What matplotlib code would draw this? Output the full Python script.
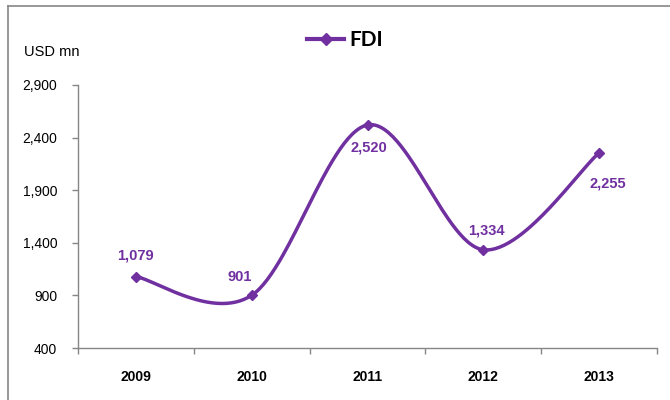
import numpy as np
import matplotlib.pyplot as plt
from matplotlib.lines import Line2D

years = ["2009", "2010", "2011", "2012", "2013"]
fdi = [1079, 901, 2520, 1334, 2255]
label_offsets = [(0, 15), (-9, 13), (1, -16), (2, 14), (6, -22)]  # points

purple = "#7030A0"
gray = "#868686"

plt.rcParams["font.family"] = ["Liberation Sans", "DejaVu Sans"]


def smooth(xs, ys, n=60):
    # Excel-style smoothed line: Catmull-Rom as cubic Bezier segments
    p = np.column_stack([xs, ys]).astype(float)
    p = np.vstack([p[0], p, p[-1]])
    out = []
    t = np.linspace(0, 1, n)[:, None]
    for i in range(1, len(p) - 2):
        b0 = p[i]
        b3 = p[i + 1]
        b1 = b0 + (p[i + 1] - p[i - 1]) / 6
        b2 = b3 - (p[i + 2] - p[i]) / 6
        seg = ((1 - t) ** 3) * b0 + 3 * ((1 - t) ** 2) * t * b1 + 3 * (1 - t) * t ** 2 * b2 + t ** 3 * b3
        out.append(seg)
    c = np.vstack(out)
    return c[:, 0], c[:, 1]


fig = plt.figure(figsize=(6.7, 4), dpi=100)
ax = fig.add_axes([78 / 670, 1 - 348 / 400, (657 - 78) / 670, (348 - 85) / 400])

x = np.arange(len(years))
sx, sy = smooth(x, fdi)
ax.plot(sx, sy, color=purple, lw=2.5, solid_capstyle="round", zorder=3)
ax.plot(x, fdi, ls="none", marker="D", ms=5.5, color=purple, zorder=4)

for xi, v, off in zip(x, fdi, label_offsets):
    ax.annotate(f"{v:,}", (xi, v), xytext=off, textcoords="offset points",
                ha="center", va="center", color=purple, fontsize=10.5, fontweight="bold")

ax.set_xlim(-0.5, len(years) - 0.5)
ax.set_ylim(400, 2900)
ax.set_yticks(range(400, 2901, 500))
ax.set_yticklabels([f"{v:,}" for v in range(400, 2901, 500)], fontsize=10)
ax.set_xticks(x)
ax.set_xticklabels(years, fontsize=10, fontweight="bold")
ax.set_xticks(np.arange(-0.5, len(years), 1), minor=True)
ax.tick_params(axis="x", which="major", length=0, pad=16)
ax.tick_params(axis="x", which="minor", length=4.5, color=gray, width=1)
ax.tick_params(axis="y", length=4, color=gray, width=1, pad=11)

for s in ["top", "right"]:
    ax.spines[s].set_visible(False)
for s in ["left", "bottom"]:
    ax.spines[s].set_color(gray)
    ax.spines[s].set_linewidth(1)

fig.text(24 / 670, 1 - 52 / 400, "USD mn", fontsize=10.5, va="center")

handle = Line2D([], [], color=purple, lw=3, marker="D", ms=6)
fig.legend([handle], ["FDI"], loc="center", bbox_to_anchor=(345 / 670, 1 - 40 / 400),
           frameon=False, handlelength=1.8, handletextpad=0.25,
           prop={"family": "Lato", "weight": "bold", "size": 15})

# outer chart-area border (cropped at right and bottom)
fig.add_artist(Line2D([8 / 670, 8 / 670], [0, 1 - 6 / 400], color=gray, lw=1.2, transform=fig.transFigure))
fig.add_artist(Line2D([8 / 670, 1], [1 - 6 / 400, 1 - 6 / 400], color=gray, lw=1.2, transform=fig.transFigure))

fig.savefig("out.png", dpi=100)
